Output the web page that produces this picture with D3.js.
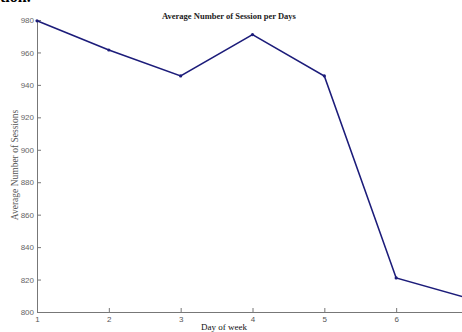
<!DOCTYPE html>
<html>
<head>
<meta charset="utf-8">
<script src="https://cdn.jsdelivr.net/npm/d3@7"></script>
<style>
  html, body { margin: 0; padding: 0; background: #fff; }
  svg { display: block; }
</style>
</head>
<body>
<svg id="chart" width="462" height="332"></svg>
<script>
// Average sessions for each day of the week
const days = [1, 2, 3, 4, 5, 6, 7];
const sessions = [979.5, 961.5, 945.5, 971, 945.5, 821, 808.5];
const yTicks = [800, 820, 840, 860, 880, 900, 920, 940, 960, 980];
const xTicks = [1, 2, 3, 4, 5, 6];

const svg = d3.select("#chart");
const m = { left: 37, top: 20, right: 468, bottom: 312 };

const x = d3.scaleLinear().domain([1, 7]).range([m.left, m.right]);
const y = d3.scaleLinear().domain([800, 980]).range([m.bottom, m.top]);

// caption fragment from the page above
svg.append("text")
  .attr("x", 0).attr("y", 1.5)
  .attr("font-family", "Liberation Serif, serif")
  .attr("font-weight", "bold")
  .attr("font-size", 16)
  .attr("fill", "#000")
  .text("tion.");

// y axis
const yAxis = d3.axisLeft(y).tickValues(yTicks).tickFormat(d3.format("d"))
  .tickSizeInner(-4).tickSizeOuter(0).tickPadding(3);
const gy = svg.append("g").attr("transform", `translate(${m.left},0)`).call(yAxis);
gy.select(".domain").attr("stroke", "#777");
gy.selectAll(".tick line").attr("stroke", "#777");
gy.selectAll(".tick text")
  .attr("font-family", "Liberation Sans, Arial, sans-serif")
  .attr("font-size", 8).attr("fill", "#666");

// x axis
const xAxis = d3.axisBottom(x).tickValues(xTicks).tickFormat(d3.format("d"))
  .tickSizeInner(-4).tickSizeOuter(0).tickPadding(4);
const gx = svg.append("g").attr("transform", `translate(0,${m.bottom})`).call(xAxis);
gx.select(".domain").attr("stroke", "#777");
gx.selectAll(".tick line").attr("stroke", "#777");
gx.selectAll(".tick text")
  .attr("font-family", "Liberation Sans, Arial, sans-serif")
  .attr("font-size", 8).attr("fill", "#555");

// series line
const line = d3.line().x((d, i) => x(days[i])).y(d => y(d));
svg.append("path")
  .datum(sessions)
  .attr("d", line)
  .attr("fill", "none")
  .attr("stroke", "#1c1c7a")
  .attr("stroke-width", 1.6)
  .attr("stroke-linejoin", "miter");

// point markers
svg.selectAll("circle.pt")
  .data(sessions)
  .join("circle")
  .attr("class", "pt")
  .attr("cx", (d, i) => x(days[i]))
  .attr("cy", d => y(d))
  .attr("r", 1.6)
  .attr("fill", "#1c1c7a");

// title
svg.append("text")
  .attr("x", 229).attr("y", 19)
  .attr("text-anchor", "middle")
  .attr("font-family", "Liberation Serif, Times New Roman, serif")
  .attr("font-weight", "bold")
  .attr("font-size", 8.5)
  .attr("fill", "#222")
  .text("Average Number of Session per Days");

// axis labels
svg.append("text")
  .attr("x", 224).attr("y", 330)
  .attr("text-anchor", "middle")
  .attr("font-family", "Liberation Serif, Times New Roman, serif")
  .attr("font-size", 9)
  .attr("fill", "#111")
  .text("Day of week");

svg.append("text")
  .attr("transform", "translate(18,165) rotate(-90)")
  .attr("text-anchor", "middle")
  .attr("font-family", "Liberation Serif, Times New Roman, serif")
  .attr("font-size", 9.5)
  .attr("fill", "#555")
  .text("Average Number of Sessions");
</script>
</body>
</html>
